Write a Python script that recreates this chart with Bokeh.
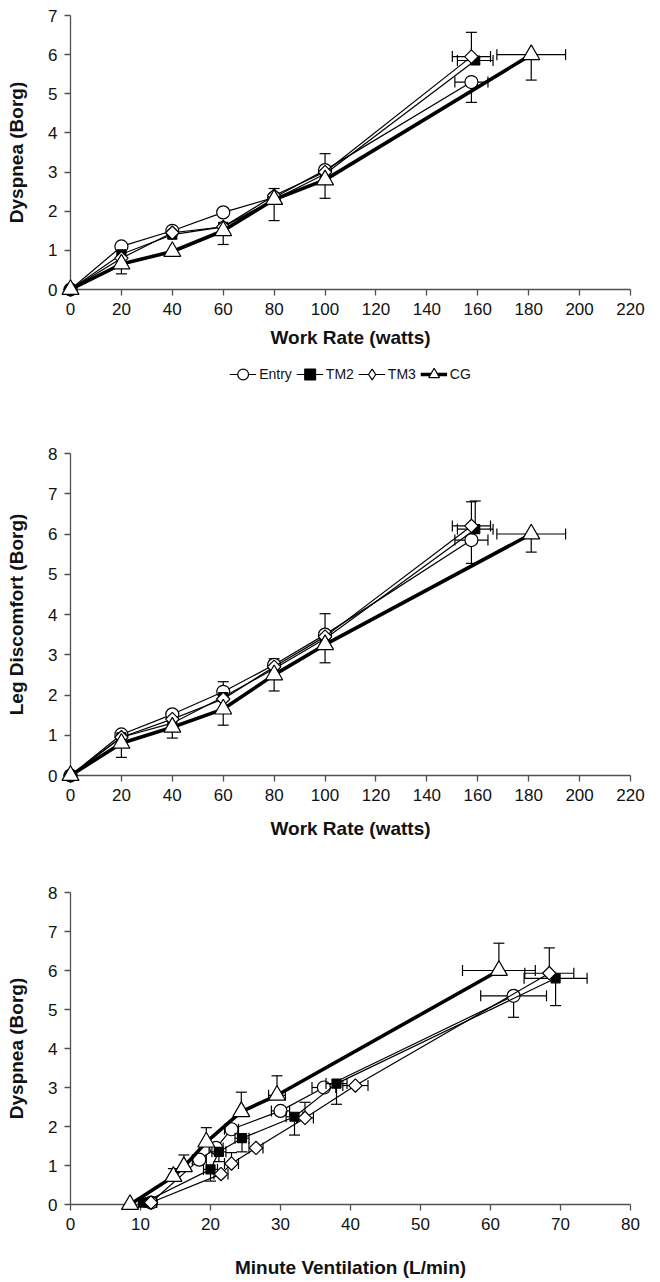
import math
from bokeh.plotting import figure
from bokeh.layouts import column
from bokeh.models import Range1d, Legend, LegendItem, FixedTicker
from bokeh.embed import file_html
from bokeh.resources import INLINE

FONT = "Liberation Sans"

# ---------------- data ----------------
series_names = ["Entry", "TM2", "TM3", "CG"]

# Work rate (watts) for panels 1 and 2
entry_wr = [0, 20, 40, 60, 80, 100, 157.5]
tm2_wr = [0, 20, 40, 60, 80, 100, 159]
tm3_wr = [0, 20, 40, 60, 80, 100, 157.5]
cg_wr = [0, 20, 40, 60, 80, 100, 181]
entry_wr_err = [0, 0, 0, 0, 0, 0, 6.5]
tm2_wr_err = [0, 0, 0, 0, 0, 0, 7.0]
tm3_wr_err = [0, 0, 0, 0, 0, 0, 7.5]
cg_wr_err = [0, 0, 0, 0, 0, 0, 13.5]

# Panel 1: Dyspnea (Borg) vs work rate
entry_dys = [0, 1.1, 1.5, 1.97, 2.35, 3.05, 5.3]
tm2_dys = [0, 0.9, 1.4, 1.6, 2.3, 2.95, 5.85]
tm3_dys = [0, 0.8, 1.45, 1.6, 2.4, 3.0, 5.95]
cg_dys = [0, 0.65, 0.97, 1.5, 2.3, 2.8, 6.0]
entry_dys_up = [0, 0, 0, 0, 0, 0.42, 0]
entry_dys_dn = [0, 0, 0, 0, 0, 0, 0.52]
tm2_dys_up = [0, 0, 0, 0, 0.28, 0, 0]
tm2_dys_dn = [0, 0, 0, 0, 0, 0, 0]
tm3_dys_up = [0, 0, 0, 0, 0, 0, 0.62]
tm3_dys_dn = [0, 0, 0, 0, 0, 0, 0]
cg_dys_up = [0, 0, 0, 0, 0, 0, 0]
cg_dys_dn = [0, 0.25, 0, 0.35, 0.54, 0.47, 0.65]

# Panel 2: Leg discomfort (Borg) vs work rate
entry_leg = [0, 1.02, 1.52, 2.08, 2.75, 3.5, 5.85]
tm2_leg = [0, 0.95, 1.3, 1.95, 2.65, 3.4, 6.12]
tm3_leg = [0, 0.95, 1.4, 1.9, 2.7, 3.45, 6.2]
cg_leg = [0, 0.8, 1.2, 1.65, 2.5, 3.25, 6.0]
entry_leg_up = [0, 0, 0, 0.25, 0.15, 0.52, 0]
entry_leg_dn = [0, 0, 0, 0, 0, 0, 0.58]
tm2_leg_up = [0, 0, 0, 0, 0, 0, 0.7]
tm2_leg_dn = [0, 0, 0, 0, 0, 0, 0]
tm3_leg_up = [0, 0, 0, 0, 0, 0, 0.6]
tm3_leg_dn = [0, 0, 0, 0, 0, 0, 0]
cg_leg_up = [0, 0, 0, 0, 0, 0, 0]
cg_leg_dn = [0, 0.35, 0.27, 0.4, 0.4, 0.45, 0.45]

# Panel 3: Dyspnea (Borg) vs minute ventilation (L/min)
entry_ve = [11.5, 18.4, 20.8, 23.0, 30.0, 36.2, 63.3]
tm2_ve = [10.5, 20.0, 21.2, 24.5, 32.0, 38.0, 69.3]
tm3_ve = [11.5, 21.5, 23.0, 26.5, 33.5, 40.7, 68.4]
cg_ve = [8.5, 14.7, 16.2, 19.4, 24.4, 29.5, 61.2]
entry_dys3 = [0.05, 1.15, 1.45, 1.93, 2.4, 3.0, 5.35]
tm2_dys3 = [0.05, 0.9, 1.35, 1.7, 2.25, 3.1, 5.8]
tm3_dys3 = [0.05, 0.78, 1.05, 1.45, 2.22, 3.05, 5.93]
cg_dys3 = [0.0, 0.72, 0.97, 1.6, 2.38, 2.8, 6.0]
entry_ve_err = [0.8, 1.0, 1.0, 1.0, 1.3, 1.7, 4.7]
tm2_ve_err = [0.8, 1.0, 1.0, 1.0, 1.2, 1.5, 4.5]
tm3_ve_err = [0.8, 1.0, 1.0, 1.0, 1.2, 1.8, 3.5]
cg_ve_err = [0, 0, 0, 0, 0, 1.2, 5.2]
entry_dys3_up = [0, 0, 0, 0, 0, 0, 0]
entry_dys3_dn = [0, 0, 0, 0, 0, 0, 0.55]
tm2_dys3_up = [0, 0, 0, 0, 0, 0, 0]
tm2_dys3_dn = [0, 0.3, 0.25, 0.35, 0.47, 0.53, 0.7]
tm3_dys3_up = [0, 0, 0.28, 0, 0.4, 0, 0.65]
tm3_dys3_dn = [0, 0, 0, 0, 0, 0, 0]
cg_dys3_up = [0, 0.2, 0.3, 0.37, 0.5, 0.5, 0.7]
cg_dys3_dn = [0, 0, 0, 0, 0, 0, 0]

x_ticks_wr = list(range(0, 221, 20))
x_ticks_ve = list(range(0, 81, 10))

# ---------------- styles ----------------
STYLE = {
    "Entry": dict(marker="circle", lmarker="circle", size=13, fill="white", lw=1.2, angle=0.0),
    "TM2": dict(marker="square", lmarker="square", size=9, fill="black", lw=1.2, angle=0.0),
    "TM3": dict(marker="square", lmarker="diamond", size=9.5, fill="white", lw=1.2,
                angle=math.pi / 4),
    "CG": dict(marker="triangle", lmarker="triangle", size=17, fill="white", lw=3.6, angle=0.0),
}
LVL = "overlay"
CAP = 11
EB_W = 1.2
LEFT = 70
FRAME_W = 560
RIGHT = 20
W = LEFT + FRAME_W + RIGHT


def errbars(p, xs, ys, up, dn, xe):
    sx0, sy0, sx1, sy1 = [], [], [], []
    vcx, vcy, hcx, hcy = [], [], [], []
    for x, y, u, d, e in zip(xs, ys, up, dn, xe):
        if u > 0 or d > 0:
            sx0.append(x); sy0.append(y - d); sx1.append(x); sy1.append(y + u)
            if u > 0:
                vcx.append(x); vcy.append(y + u)
            if d > 0:
                vcx.append(x); vcy.append(y - d)
        if e > 0:
            sx0.append(x - e); sy0.append(y); sx1.append(x + e); sy1.append(y)
            hcx += [x - e, x + e]; hcy += [y, y]
    if sx0:
        p.segment(sx0, sy0, sx1, sy1, line_color="black", line_width=EB_W, level=LVL)
    if vcx:
        p.scatter(vcx, vcy, marker="dash", size=CAP, line_color="black",
                  line_width=EB_W, level=LVL)
    if hcx:
        p.scatter(hcx, hcy, marker="dash", size=CAP, angle=math.pi / 2,
                  line_color="black", line_width=EB_W, level=LVL)


def make_fig(height, top, bottom, xr, yr, xticks, yticks, xlabel, ylabel,
             xstand, ystand):
    p = figure(width=W, height=height, x_range=Range1d(*xr), y_range=Range1d(*yr),
               output_backend="svg", toolbar_location=None,
               min_border_left=LEFT, min_border_right=RIGHT,
               min_border_top=top, min_border_bottom=bottom)
    p.outline_line_color = None
    p.xgrid.visible = False
    p.ygrid.visible = False
    p.background_fill_color = "white"
    p.border_fill_color = "white"
    p.xaxis.ticker = FixedTicker(ticks=xticks)
    p.yaxis.ticker = FixedTicker(ticks=yticks)
    for ax in (p.xaxis, p.yaxis):
        ax.axis_line_color = "#505050"
        ax.axis_line_width = 1.3
        ax.major_tick_line_color = "#505050"
        ax.major_tick_line_width = 1.3
        ax.major_tick_out = 6
        ax.major_tick_in = 0
        ax.minor_tick_line_color = None
        ax.major_label_text_font = FONT
        ax.major_label_text_font_size = "17px"
        ax.major_label_text_color = "#111111"
        ax.major_label_standoff = 7
        ax.axis_label_text_font = FONT
        ax.axis_label_text_font_style = "bold"
        ax.axis_label_text_font_size = "19px"
        ax.axis_label_text_color = "#111111"
    p.xaxis.axis_label = xlabel
    p.yaxis.axis_label = ylabel
    p.xaxis.axis_label_standoff = xstand
    p.yaxis.axis_label_standoff = ystand
    return p


def draw_series(p, name, xs, ys, up, dn, xe, visible=True):
    st = STYLE[name]
    if visible:
        errbars(p, xs, ys, up, dn, xe)
        marker, angle = st["marker"], st["angle"]
    else:
        marker, angle = st["lmarker"], 0.0
    lr = p.line(xs, ys, line_color="black", line_width=st["lw"], level=LVL,
                visible=visible)
    sr = p.scatter(xs, ys, marker=marker, size=st["size"], angle=angle,
                   fill_color=st["fill"], line_color="black", line_width=1.2, level=LVL,
                   visible=visible)
    return lr, sr


# ---------------- panel 1 ----------------
p1 = make_fig(356, 15, 67, (0, 220), (0, 7), x_ticks_wr, list(range(0, 8)),
              "Work Rate (watts)", "Dyspnea (Borg)", 9, 18)
p1_data = [
    ("Entry", entry_wr, entry_dys, entry_dys_up, entry_dys_dn, entry_wr_err),
    ("TM2", tm2_wr, tm2_dys, tm2_dys_up, tm2_dys_dn, tm2_wr_err),
    ("TM3", tm3_wr, tm3_dys, tm3_dys_up, tm3_dys_dn, tm3_wr_err),
    ("CG", cg_wr, cg_dys, cg_dys_up, cg_dys_dn, cg_wr_err),
]
for name, xs, ys, u, d, e in p1_data:
    draw_series(p1, name, xs, ys, u, d, e)

# ---------------- legend strip (hidden copies of panel-1 series feed the legend) ----
pl = figure(width=W, height=36, x_range=Range1d(0, 1), y_range=Range1d(0, 1),
            output_backend="svg", toolbar_location=None,
            x_axis_location=None, y_axis_location=None,
            min_border_left=LEFT, min_border_right=RIGHT,
            min_border_top=0, min_border_bottom=0)
pl.outline_line_color = None
pl.xgrid.visible = False
pl.ygrid.visible = False
items = []
for name, xs, ys, u, d, e in p1_data:
    lr, sr = draw_series(pl, name, xs, ys, u, d, e, visible=False)
    items.append(LegendItem(label=name, renderers=[lr, sr]))
legend = Legend(items=items, orientation="horizontal", location="center",
                glyph_width=27, glyph_height=28, label_standoff=3, spacing=4,
                padding=0, margin=0, border_line_color=None,
                background_fill_alpha=0, inactive_fill_alpha=0,
                label_text_font=FONT, label_text_font_size="14px",
                label_text_color="#111111")
pl.add_layout(legend)

# ---------------- panel 2 ----------------
p2 = make_fig(478, 61, 95, (0, 220), (0, 8), x_ticks_wr, list(range(0, 9)),
              "Work Rate (watts)", "Leg Discomfort (Borg)", 14, 18)
p2_data = [
    ("Entry", entry_wr, entry_leg, entry_leg_up, entry_leg_dn, entry_wr_err),
    ("TM2", tm2_wr, tm2_leg, tm2_leg_up, tm2_leg_dn, tm2_wr_err),
    ("TM3", tm3_wr, tm3_leg, tm3_leg_up, tm3_leg_dn, tm3_wr_err),
    ("CG", cg_wr, cg_leg, cg_leg_up, cg_leg_dn, cg_wr_err),
]
for name, xs, ys, u, d, e in p2_data:
    draw_series(p2, name, xs, ys, u, d, e)

# ---------------- panel 3 ----------------
p3 = make_fig(410, 22, 68, (0, 80), (0, 8), x_ticks_ve, list(range(0, 9)),
              "Minute Ventilation (L/min)", "Dyspnea (Borg)", 24, 18)
p3_data = [
    ("Entry", entry_ve, entry_dys3, entry_dys3_up, entry_dys3_dn, entry_ve_err),
    ("TM2", tm2_ve, tm2_dys3, tm2_dys3_up, tm2_dys3_dn, tm2_ve_err),
    ("TM3", tm3_ve, tm3_dys3, tm3_dys3_up, tm3_dys3_dn, tm3_ve_err),
    ("CG", cg_ve, cg_dys3, cg_dys3_up, cg_dys3_dn, cg_ve_err),
]
for name, xs, ys, u, d, e in p3_data:
    draw_series(p3, name, xs, ys, u, d, e)

layout = column(p1, pl, p2, p3, spacing=0)
open("out.html", "w").write(file_html(layout, INLINE))
